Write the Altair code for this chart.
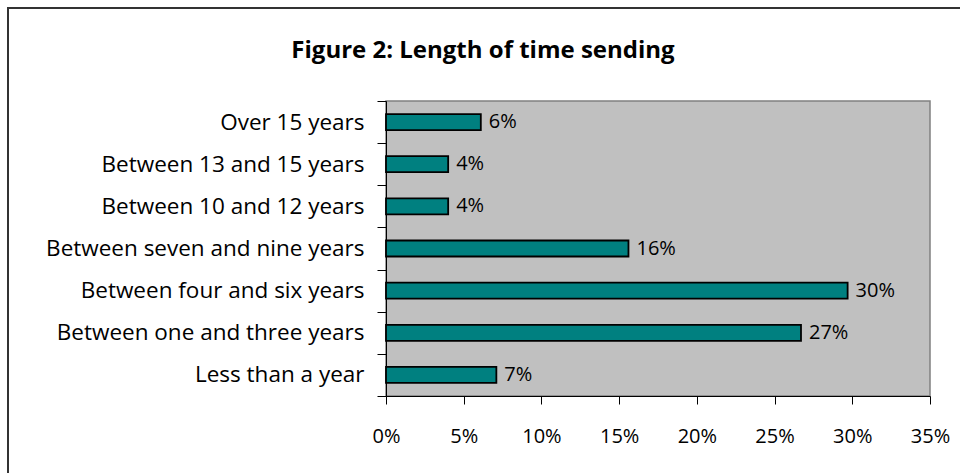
import altair as alt
import pandas as pd

# Survey responses: how long respondents have been sending money home
categories = [
    "Over 15 years",
    "Between 13 and 15 years",
    "Between 10 and 12 years",
    "Between seven and nine years",
    "Between four and six years",
    "Between one and three years",
    "Less than a year",
]
shares = [0.061, 0.040, 0.040, 0.156, 0.297, 0.267, 0.071]
x_ticks = [0.0, 0.05, 0.10, 0.15, 0.20, 0.25, 0.30, 0.35]

df = pd.DataFrame({"category": categories, "share": shares})

PLOT_W = 544
PLOT_H = 295
LABEL_FONT = "Open Sans"

x_enc = alt.X(
    "share:Q",
    scale=alt.Scale(domain=[0, 0.35], nice=False, zero=True),
    axis=alt.Axis(
        values=x_ticks,
        format=".0%",
        title=None,
        grid=False,
        domainColor="black",
        tickColor="black",
        tickSize=8,
        labelPadding=22,
        labelFlush=False,
        labelFont=LABEL_FONT,
        labelFontSize=20,
        labelColor="black",
    ),
)
y_enc = alt.Y(
    "category:N",
    sort=categories,
    scale=alt.Scale(paddingInner=0, paddingOuter=0),
    axis=alt.Axis(
        title=None,
        tickBand="extent",
        domainColor="black",
        tickColor="black",
        tickSize=9,
        labelPadding=13,
        labelFont=LABEL_FONT,
        labelFontSize=22.5,
        labelColor="black",
        labelLimit=400,
    ),
)

bars = alt.Chart(df).mark_bar(
    color="#008080", stroke="black", strokeWidth=1.8, size=16
).encode(x=x_enc, y=y_enc)

values_text = alt.Chart(df).mark_text(
    align="left", baseline="middle", dx=8,
    font=LABEL_FONT, fontSize=20, color="black",
).encode(
    x="share:Q",
    y=alt.Y("category:N", sort=categories),
    text=alt.Text("share:Q", format=".0%"),
)

# Outer chart frame (top and left edges fall inside the page)
frame = alt.Chart(alt.Data(values=[{}])).mark_rect(
    fill=None, stroke="#333333", strokeWidth=2
).encode(
    x=alt.value(-378), x2=alt.value(620),
    y=alt.value(-93), y2=alt.value(420),
)

chart = alt.layer(frame, bars, values_text).properties(
    width=PLOT_W,
    height=PLOT_H,
    title=alt.TitleParams(
        "Figure 2: Length of time sending",
        font=LABEL_FONT, fontSize=24, fontWeight="bold", color="black",
        anchor="middle", dx=-175, dy=56, offset=0,
    ),
    autosize=alt.AutoSizeParams(type="none"),
    padding={"left": 386, "top": 101, "right": 30, "bottom": 77},
    background="white",
).configure_view(
    fill="#C0C0C0", stroke="#808080", strokeWidth=1.5
)

chart.save("out.html", embed_options={"renderer": "svg", "actions": False})
